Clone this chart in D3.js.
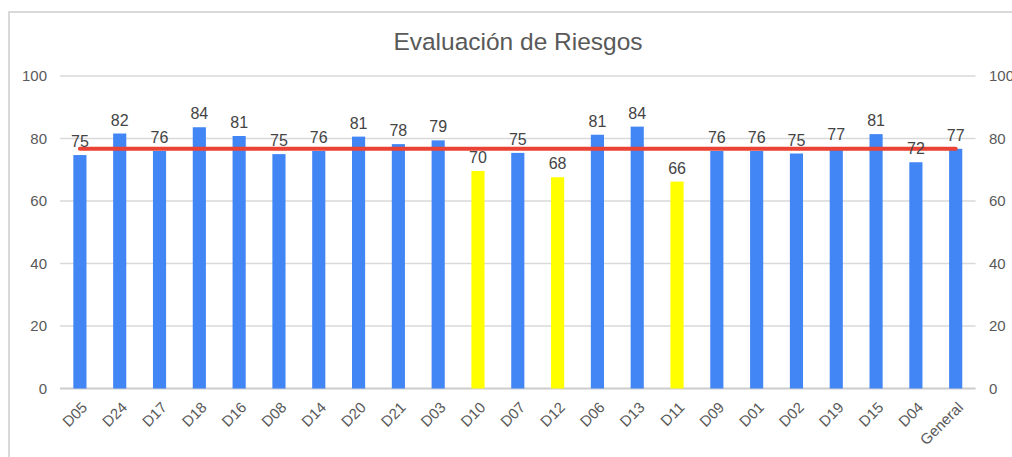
<!DOCTYPE html>
<html>
<head>
<meta charset="utf-8">
<script src="https://cdn.jsdelivr.net/npm/d3@7"></script>
<style>
  body { margin: 0; background: #fff; }
  svg { font-family: "Liberation Sans", Arial, sans-serif; }
</style>
</head>
<body>
<div class="container"><svg width="1012" height="457"></svg></div>
<script>
// chart data
var categories = ["D05", "D24", "D17", "D18", "D16", "D08", "D14", "D20", "D21", "D03", "D10",
    "D07", "D12", "D06", "D13", "D11", "D09", "D01", "D02", "D19", "D15", "D04", "General"];
var scores = [74.7, 81.6, 76, 83.6, 80.8, 75, 76, 80.6, 78.2, 79.4, 69.6,
    75.4, 67.6, 81.2, 83.8, 66.2, 76, 76, 75.2, 77, 81.4, 72.4, 76.7];
var average = [76.7];
var yTicks = [0, 20, 40, 60, 80, 100];
var lowLimit = 70;   // bars below this are drawn yellow

var svg = d3.select("svg");

// outer border of the chart
svg.append("rect")
    .attr("x", 9).attr("y", 12)
    .attr("width", 1040).attr("height", 480)
    .attr("fill", "none")
    .attr("stroke", "#d9d9d9")
    .attr("stroke-width", 2);

var x = d3.scaleBand()
    .domain(categories)
    .range([60, 975.6])
    .paddingInner(0.67)
    .paddingOuter(0.335);

var y = d3.scaleLinear()
    .domain([0, 100])
    .range([388.5, 76]);

// gridlines
svg.append("g")
    .selectAll("line")
    .data(yTicks)
    .enter().append("line")
    .attr("x1", 60).attr("x2", 975.6)
    .attr("y1", function (d) { return y(d); })
    .attr("y2", function (d) { return y(d); })
    .attr("stroke", function (d) { return d === 0 ? "#cccccc" : "#d9d9d9"; })
    .attr("stroke-width", function (d) { return d === 0 ? 2 : 1.3; });

// left and right axes (labels only)
var leftAxis = d3.axisLeft(y).tickValues(yTicks).tickSize(0).tickPadding(0);
var rightAxis = d3.axisRight(y).tickValues(yTicks).tickSize(0).tickPadding(0);

svg.append("g")
    .attr("transform", "translate(47,0)")
    .call(leftAxis)
    .call(function (g) { g.select(".domain").remove(); })
    .selectAll("text")
    .attr("font-size", 15)
    .attr("font-family", "Liberation Sans, Arial, sans-serif")
    .attr("fill", "#595959");

svg.append("g")
    .attr("transform", "translate(989,0)")
    .call(rightAxis)
    .call(function (g) { g.select(".domain").remove(); })
    .selectAll("text")
    .attr("font-size", 15)
    .attr("font-family", "Liberation Sans, Arial, sans-serif")
    .attr("fill", "#595959");

// bars
svg.append("g")
    .selectAll("rect")
    .data(scores)
    .enter().append("rect")
    .attr("x", function (d, i) { return x(categories[i]); })
    .attr("y", function (d) { return y(d); })
    .attr("width", x.bandwidth())
    .attr("height", function (d) { return y(0) - y(d); })
    .attr("fill", function (d) { return d < lowLimit ? "#ffff00" : "#4285f4"; });

// average line
svg.append("line")
    .datum(average[0])
    .attr("x1", x(categories[0]) + x.bandwidth() / 2)
    .attr("x2", x(categories[categories.length - 1]) + x.bandwidth() / 2)
    .attr("y1", function (d) { return y(d); })
    .attr("y2", function (d) { return y(d); })
    .attr("stroke", "#ea4335")
    .attr("stroke-width", 4)
    .attr("stroke-linecap", "round");

// value labels
svg.append("g")
    .selectAll("text")
    .data(scores)
    .enter().append("text")
    .attr("x", function (d, i) { return x(categories[i]) + x.bandwidth() / 2; })
    .attr("y", function (d) { return y(d) - 8; })
    .attr("text-anchor", "middle")
    .attr("font-size", 16)
    .attr("fill", "#444444")
    .text(function (d) { return Math.round(d); });

// x axis labels, rotated
svg.append("g")
    .selectAll("text")
    .data(categories)
    .enter().append("text")
    .attr("transform", function (d) {
        return "translate(" + (x(d) + x.bandwidth() / 2 + 2) + ",402) rotate(-45)";
    })
    .attr("text-anchor", "end")
    .attr("dy", "0.6em")
    .attr("font-size", 15)
    .attr("fill", "#595959")
    .text(function (d) { return d; });

// title
svg.append("text")
    .attr("x", 518)
    .attr("y", 50)
    .attr("text-anchor", "middle")
    .attr("font-size", 24.5)
    .attr("fill", "#595959")
    .text("Evaluación de Riesgos");
</script>
</body>
</html>
